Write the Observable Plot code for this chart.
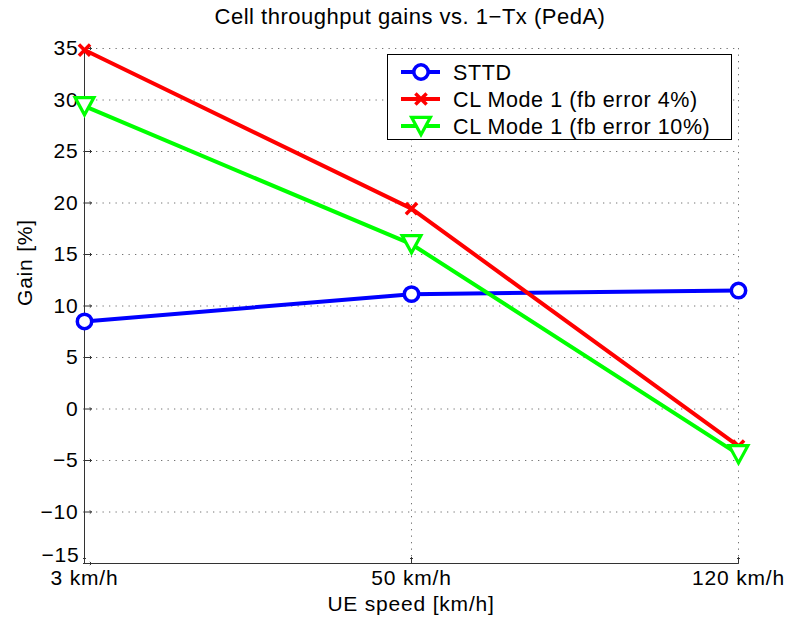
<!DOCTYPE html>
<html>
<head>
<meta charset="utf-8">
<script src="https://cdn.jsdelivr.net/npm/d3@7"></script>
<script src="https://cdn.jsdelivr.net/npm/@observablehq/plot@0.6"></script>
<style>
  html, body { margin: 0; padding: 0; background: #fff; }
  #wrap { position: relative; width: 790px; height: 624px; font-family: "Liberation Sans", Arial, Helvetica, sans-serif; letter-spacing: 0.5px; }
  #title { position: absolute; left: 0; top: 4px; width: 820px; text-align: center; font-size: 22px; color: #000; }
  #legend { position: absolute; left: 387px; top: 54px; }
</style>
</head>
<body>
<div id="wrap">
  <div id="chart"></div>
  <div id="title">Cell throughput gains vs. 1−Tx (PedA)</div>
  <div id="legend"></div>
</div>
<script>
const categories = ["3 km/h", "50 km/h", "120 km/h"];
const seriesNames = ["STTD", "CL Mode 1 (fb error 4%)", "CL Mode 1 (fb error 10%)"];
const sttd = [8.5, 11.15, 11.5];
const clFb4 = [34.85, 19.45, -3.6];
const clFb10 = [29.4, 16.0, -4.4];
const colors = ["#0000ff", "#ff0000", "#00ff00"];
const yTicks = [-15, -10, -5, 0, 5, 10, 15, 20, 25, 30, 35];
const xLabel = "UE speed [km/h]";
const yLabel = "Gain [%]";

// custom symbols
const symTimes = {
  draw(ctx, size) {
    const r = Math.sqrt(size / Math.PI);
    ctx.moveTo(-r, -r); ctx.lineTo(r, r);
    ctx.moveTo(-r, r); ctx.lineTo(r, -r);
  }
};
const symTriDown = {
  draw(ctx, size) {
    const r = Math.sqrt(size / Math.PI);
    const h = r * 0.92;
    ctx.moveTo(-r, -h); ctx.lineTo(r, -h); ctx.lineTo(0, h); ctx.closePath();
  }
};
const symCircle = {
  draw(ctx, size) {
    const r = Math.sqrt(size / Math.PI);
    ctx.moveTo(r, 0); ctx.arc(0, 0, r, 0, 2 * Math.PI);
  }
};
const symbols = [symCircle, symTimes, symTriDown];
const radii = [7.2, 5.6, 9.4];
const symStroke = [3.5, 3.5, 3.2];

const values = [sttd, clFb4, clFb10];
const rows = values.map((vals, s) => categories.map((c, i) => ({series: seriesNames[s], cat: c, v: vals[i]})));

const fs = 21;
const fmt = d => d < 0 ? "−" + Math.abs(d) : String(d);
const marks = [
  Plot.gridY(yTicks, {stroke: "#000", strokeOpacity: 0.55, strokeDasharray: "1.3,5.2"}),
  Plot.gridX(categories.slice(1), {stroke: "#000", strokeOpacity: 0.55, strokeDasharray: "1.3,5.2"}),
  Plot.ruleX([categories[0]], {y1: -15, y2: 35, stroke: "#333", strokeWidth: 1}),
  Plot.ruleY([-15], {stroke: "#333", strokeWidth: 1}),
  // inward ticks
  Plot.vector(yTicks, {x: () => categories[0], y: d => d, length: 7, rotate: 90, anchor: "start", stroke: "#333", strokeWidth: 1}),
  Plot.vector(categories, {x: d => d, y: () => -15, length: 6, rotate: 0, anchor: "start", stroke: "#333", strokeWidth: 1}),
  Plot.axisY(yTicks.filter(d => d > -15), {tickSize: 0, tickPadding: 5, fontSize: fs, label: null, fill: "#000", tickFormat: fmt}),
  Plot.text([-15], {x: () => categories[0], y: d => d, text: fmt, dx: -5, dy: -8, textAnchor: "end", fontSize: fs, fill: "#000"}),
  Plot.axisX(categories, {tickSize: 0, tickPadding: 7, fontSize: fs, label: null, fill: "#000"}),
  Plot.text([xLabel], {frameAnchor: "bottom", dy: 47, fontSize: fs, fill: "#000"}),
  Plot.text([yLabel], {frameAnchor: "left", dx: -58, rotate: -90, fontSize: fs, fill: "#000"})
];
rows.forEach((data, s) => {
  marks.push(Plot.line(data, {x: "cat", y: "v", stroke: colors[s], strokeWidth: 4}));
  marks.push(Plot.dot(data, {x: "cat", y: "v", symbol: () => symbols[s], r: radii[s], stroke: colors[s], strokeWidth: symStroke[s], fill: s === 1 ? "none" : "#fff"}));
});

const chart = Plot.plot({
  width: 790,
  height: 624,
  marginLeft: 83,
  marginRight: 52,
  marginTop: 48,
  marginBottom: 61,
  style: {fontFamily: "'Liberation Sans', Arial, Helvetica, sans-serif", fontSize: fs + "px", background: "#fff", color: "#000", letterSpacing: "0.8px"},
  x: {type: "point", domain: categories, padding: 0},
  y: {domain: [-15, 35]},
  symbol: {type: "identity"},
  marks
});
document.getElementById("chart").appendChild(chart);

// legend
const lw = 345, lh = 86;
const lsvg = d3.select("#legend").append("svg").attr("width", lw).attr("height", lh)
  .style("font-family", "'Liberation Sans', Arial, Helvetica, sans-serif").style("overflow", "visible")
  .style("letter-spacing", "0.6px");
lsvg.append("rect").attr("x", 0.5).attr("y", 0.5).attr("width", lw - 1).attr("height", lh - 1)
  .attr("fill", "#fff").attr("stroke", "#000").attr("stroke-width", 1);
seriesNames.forEach((name, s) => {
  const cy = 18 + s * 27;
  const g = lsvg.append("g");
  g.append("line").attr("x1", 14).attr("x2", 53).attr("y1", cy).attr("y2", cy)
    .attr("stroke", colors[s]).attr("stroke-width", 4);
  const path = d3.path();
  symbols[s].draw(path, Math.PI * radii[s] * radii[s]);
  g.append("path").attr("d", path.toString()).attr("transform", `translate(34,${cy})`)
    .attr("fill", s === 1 ? "none" : "#fff").attr("stroke", colors[s]).attr("stroke-width", symStroke[s]);
  g.append("text").attr("x", 66).attr("y", cy).attr("dy", "0.36em").attr("font-size", 21.5).attr("fill", "#000").text(name);
});
</script>
</body>
</html>
